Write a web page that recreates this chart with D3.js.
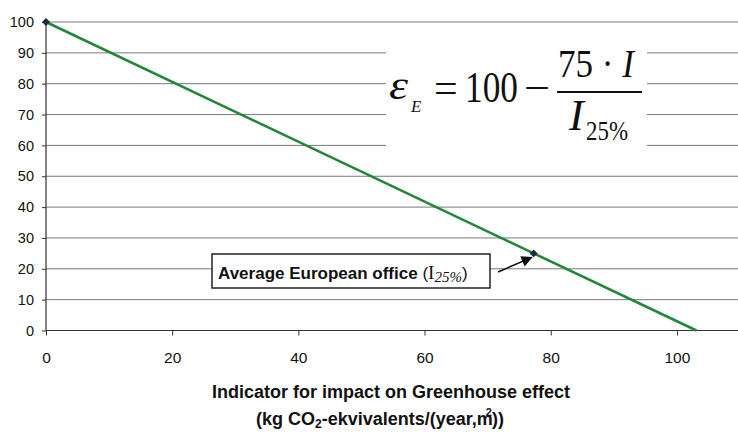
<!DOCTYPE html>
<html>
<head>
<meta charset="utf-8">
<script src="https://cdn.jsdelivr.net/npm/d3@7"></script>
<style>
  body { margin: 0; background: #fff; }
  svg { display: block; }
</style>
</head>
<body>
<div id="container"></div>
<script>
// data
const indicator = [0, 77.3, 103.1];     // kg CO2-eq/(year,m2)
const score = [100, 25, 0];             // eps_E
const markerIdx = [0, 1];               // points drawn with a diamond
const xTicks = [0, 20, 40, 60, 80, 100];
const yTicks = [0, 10, 20, 30, 40, 50, 60, 70, 80, 90, 100];
const i25 = 77.3;                       // average European office

const w = 738, h = 432;
const svg = d3.select("#container").append("svg")
  .attr("width", w)
  .attr("height", h);

const x = d3.scaleLinear().domain([0, 110]).range([46, 740]);
const y = d3.scaleLinear().domain([0, 100]).range([330.5, 22]);

/* ---------------- GRID ---------------- */
svg.append("g")
  .selectAll("line")
  .data(yTicks.filter(d => d > 0))
  .enter()
  .append("line")
  .attr("x1", x(0))
  .attr("x2", w)
  .attr("y1", d => y(d))
  .attr("y2", d => y(d))
  .attr("stroke", "#7a7a7a")
  .attr("stroke-width", 1);

/* ---------------- AXES ---------------- */
const yAxis = svg.append("g")
  .attr("transform", `translate(${x(0)},0)`)
  .call(d3.axisLeft(y).tickValues(yTicks).tickSize(4).tickPadding(8));
const xAxis = svg.append("g")
  .attr("transform", `translate(0,${y(0)})`)
  .call(d3.axisBottom(x).tickValues(xTicks).tickSize(5).tickPadding(16));

[yAxis, xAxis].forEach(g => {
  g.select(".domain").attr("stroke", "#333").attr("stroke-width", 1.2);
  g.selectAll(".tick line").attr("stroke", "#333");
  g.selectAll("text")
    .attr("fill", "#111")
    .attr("font-family", "Liberation Sans, Arial, sans-serif");
});
yAxis.selectAll("text").attr("font-size", 14.5);
xAxis.selectAll("text").attr("font-size", 15.5);
yAxis.select(".domain").attr("d", `M0,${y(0)}V${y(100)}`);
xAxis.select(".domain").attr("d", `M${x(0)},0H${w}`);

/* ---------------- FORMULA ---------------- */
svg.append("rect")
  .attr("x", 386).attr("y", 40)
  .attr("width", 261).attr("height", 112)
  .attr("fill", "#fff");

const f = svg.append("g")
  .attr("font-family", "Liberation Serif, Times New Roman, serif")
  .attr("fill", "#111");
f.append("text").attr("x", 389).attr("y", 99)
  .attr("font-size", 40).attr("font-style", "italic")
  .attr("textLength", 19).attr("lengthAdjust", "spacingAndGlyphs").text("ε");
f.append("text").attr("x", 411).attr("y", 112)
  .attr("font-size", 17).attr("font-style", "italic").text("E");
f.append("text").attr("x", 434).attr("y", 102)
  .attr("font-size", 42).text("=");
f.append("text").attr("x", 465).attr("y", 102)
  .attr("font-size", 44).attr("textLength", 53).attr("lengthAdjust", "spacingAndGlyphs").text("100");
f.append("text").attr("x", 524).attr("y", 102)
  .attr("font-size", 42).attr("textLength", 26).attr("lengthAdjust", "spacingAndGlyphs").text("−");
f.append("text").attr("x", 558).attr("y", 77)
  .attr("font-size", 40).attr("textLength", 76).attr("lengthAdjust", "spacingAndGlyphs")
  .html('75 · <tspan font-style="italic">I</tspan>');
f.append("line")
  .attr("x1", 557).attr("x2", 642).attr("y1", 92).attr("y2", 92)
  .attr("stroke", "#111").attr("stroke-width", 2);
f.append("text").attr("x", 569).attr("y", 130)
  .attr("font-size", 44).attr("font-style", "italic").text("I");
f.append("text").attr("x", 586).attr("y", 140)
  .attr("font-size", 28).attr("textLength", 42).attr("lengthAdjust", "spacingAndGlyphs").text("25%");

/* ---------------- LINE ---------------- */
const pts = indicator.map((v, i) => [v, score[i]]);
svg.append("path")
  .datum(pts)
  .attr("fill", "none")
  .attr("stroke", "#23873a")
  .attr("stroke-width", 2.6)
  .attr("d", d3.line().x(d => x(d[0])).y(d => y(d[1])));

svg.selectAll(".marker")
  .data(markerIdx.map(i => pts[i]))
  .enter()
  .append("path")
  .attr("class", "marker")
  .attr("transform", d => `translate(${x(d[0])},${y(d[1])})`)
  .attr("d", d3.symbol(d3.symbolDiamond2, 40))
  .attr("fill", "#1b2c44");

/* ---------------- ANNOTATION ---------------- */
svg.append("defs").append("marker")
  .attr("id", "arrow")
  .attr("viewBox", "0 0 10 10")
  .attr("refX", 9).attr("refY", 5)
  .attr("markerWidth", 8).attr("markerHeight", 7)
  .attr("orient", "auto")
  .append("path").attr("d", "M0,0L10,5L0,10z").attr("fill", "#111");

svg.append("line")
  .attr("x1", 498).attr("y1", 272)
  .attr("x2", x(i25) - 2).attr("y2", y(25) + 4)
  .attr("stroke", "#111").attr("stroke-width", 1.6)
  .attr("marker-end", "url(#arrow)");

svg.append("rect")
  .attr("x", 212).attr("y", 254)
  .attr("width", 278).attr("height", 34)
  .attr("fill", "#fff")
  .attr("stroke", "#222").attr("stroke-width", 1.5);

svg.append("text")
  .attr("x", 218).attr("y", 279)
  .attr("font-family", "Liberation Sans, Arial, sans-serif")
  .attr("font-size", 17)
  .attr("font-weight", "bold")
  .attr("fill", "#111")
  .html('Average European office <tspan font-weight="normal">(</tspan>' +
    '<tspan font-family="Liberation Serif, serif" font-weight="normal" font-size="19">I</tspan>' +
    '<tspan font-family="Liberation Serif, serif" font-weight="normal" font-style="italic" font-size="15" dy="3">25%</tspan>' +
    '<tspan font-weight="normal" dy="-3">)</tspan>');

/* ---------------- AXIS TITLE ---------------- */
const title = svg.append("text")
  .attr("text-anchor", "middle")
  .attr("font-family", "Liberation Sans, Arial, sans-serif")
  .attr("font-size", 18)
  .attr("font-weight", "bold")
  .attr("fill", "#111");
title.append("tspan").attr("x", 391).attr("y", 398)
  .text("Indicator for impact on Greenhouse effect");
title.append("tspan").attr("x", 380).attr("y", 425)
  .html('(kg CO<tspan font-size="12" dy="3">2</tspan><tspan dy="-3">-ekvivalents/(year,m</tspan>' +
    '<tspan font-size="11" dy="-9" dx="-7">2</tspan><tspan dy="9">))</tspan>');
</script>
</body>
</html>
